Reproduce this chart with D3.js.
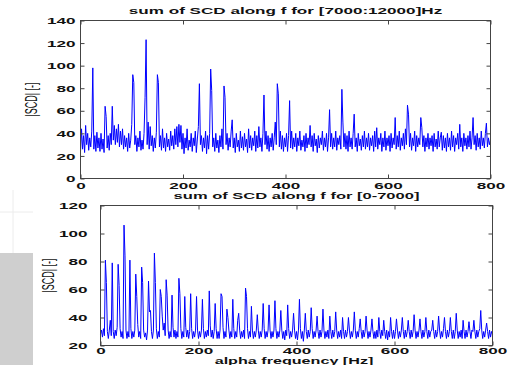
<!DOCTYPE html>
<html>
<head>
<meta charset="utf-8">
<script src="https://cdn.jsdelivr.net/npm/d3@7"></script>
<style>
  body { margin: 0; background: #fff; }
  svg { display: block; }
  text { font-family: "Liberation Sans", Arial, sans-serif; }
</style>
</head>
<body>
<div id="chart"></div>
<script>
// ---- data ----
// upper panel: sum of SCD along f for [7000:12000]Hz, one value every 2 Hz (0..800)
var topStep = 2;
var topVals = [
  24,44,26,38,23,47,30,40,25,36,28,42,98,26,38,24,41,27,36,24,
  40,26,35,23,64,55,27,38,25,40,30,64,34,47,30,44,32,48,28,42,
  30,44,26,38,28,36,24,40,27,34,48,92,85,30,38,24,36,28,42,25,
  34,26,40,72,123,30,50,26,46,29,38,24,36,27,41,92,85,28,38,25,
  44,27,36,24,40,28,35,25,42,29,38,26,44,30,46,28,48,32,47,26,
  40,22,36,27,44,25,34,28,40,24,36,29,42,23,35,46,84,30,38,24,
  36,27,42,22,38,26,40,97,78,28,36,24,40,27,34,23,38,28,44,26,
  82,72,30,40,25,36,28,42,52,27,36,23,40,28,34,24,42,27,37,25,
  40,28,35,23,44,27,38,25,36,29,42,24,38,27,46,28,36,24,40,74,
  30,42,26,38,24,36,28,40,25,36,50,30,84,75,28,42,26,38,24,36,
  28,40,24,38,69,27,42,26,36,28,40,24,36,29,42,25,34,28,38,24,
  40,27,36,30,47,28,38,24,40,29,35,23,38,27,36,30,42,25,36,28,
  40,24,36,61,28,40,26,36,28,42,25,36,30,38,26,79,50,28,40,26,
  38,24,42,28,36,26,40,57,28,36,24,40,29,35,25,38,28,42,26,36,
  28,40,25,36,29,38,24,42,28,45,26,36,30,40,24,36,28,42,25,36,
  29,38,24,40,27,36,30,54,26,38,28,42,25,36,29,40,26,44,30,65,
  57,28,40,25,36,29,42,24,38,28,36,30,54,45,28,38,24,36,28,40,
  26,36,29,38,24,40,28,35,26,42,28,36,41,25,38,27,36,24,40,28,
  36,25,42,28,38,24,36,30,40,26,48,28,36,24,40,29,36,26,38,28,
  42,26,36,54,30,38,25,40,28,36,26,42,29,36,27,40,49,28,36,30,
  34
];
// lower panel: sum of SCD along f for [0-7000], one value every 2 Hz (0..800)
var botStep = 2;
var botVals = [
  28,31,26,32,27,81,65,30,25,31,38,27,79,30,25,31,27,33,78,63,
  32,26,30,25,106,84,31,25,30,26,81,32,25,30,26,31,71,55,35,26,
  30,25,76,65,31,26,29,24,31,66,44,45,30,25,31,86,65,32,25,30,
  26,60,55,41,31,36,27,67,56,31,25,30,26,56,33,26,31,25,30,26,
  68,57,32,25,30,26,55,33,26,31,25,30,57,32,25,30,26,31,55,31,
  25,30,26,31,53,32,25,30,26,31,27,59,34,26,31,25,30,50,32,25,
  30,25,31,57,55,33,25,30,26,46,40,31,25,30,26,53,32,25,30,26,
  38,43,31,25,30,26,31,25,61,55,32,25,30,26,48,31,25,30,26,31,
  42,31,25,30,26,31,50,32,25,30,26,31,49,31,25,30,26,31,52,32,
  25,30,26,31,45,31,25,30,24,31,27,49,32,25,30,26,31,43,31,25,
  30,24,31,53,32,25,30,23,31,43,30,25,31,26,30,47,32,25,30,26,
  31,41,30,25,31,26,30,46,31,25,30,26,31,25,41,30,25,31,26,30,
  44,31,25,30,26,31,25,40,30,25,31,26,30,40,31,25,30,26,31,44,
  31,25,30,26,32,39,30,25,31,26,30,41,31,25,30,26,31,39,30,25,
  30,25,31,26,40,30,25,31,27,38,30,25,31,24,30,26,40,30,25,31,
  25,30,39,31,25,30,26,31,40,30,25,31,26,30,38,30,25,31,26,30,
  42,31,25,30,26,31,39,30,25,31,26,30,40,30,25,31,26,30,31,38,
  30,25,31,26,30,41,31,25,30,26,32,40,30,25,31,26,30,40,30,25,
  31,25,30,43,31,25,30,26,31,25,38,30,25,31,26,30,37,30,25,31,
  30,38,30,25,31,26,30,32,45,31,25,30,26,31,36,30,25,31,26,30,
  28
];
var xTicks = [0, 200, 400, 600, 800];
var topYTicks = [0, 20, 40, 60, 80, 100, 120, 140];
var botYTicks = [20, 40, 60, 80, 100, 120];

var W = 518, H = 365;
var SX = 1.9; // the picture is stretched sideways, text included

var svg = d3.select("#chart").append("svg")
  .attr("width", W).attr("height", H);

// grey bits of the screenshot at the left
svg.append("rect").attr("x", 0).attr("y", 253).attr("width", 33).attr("height", H - 253)
  .attr("fill", "#cfcfcf");
svg.append("line").attr("x1", 13).attr("x2", 13).attr("y1", 190).attr("y2", 253)
  .attr("stroke", "#ececec");
svg.append("line").attr("x1", 0).attr("x2", 33).attr("y1", 212).attr("y2", 212)
  .attr("stroke", "#ececec");

function stretchText(sel, cx, cy, size, bold, rot) {
  sel.attr("transform", "translate(" + cx + "," + cy + ") scale(" + SX + ",1)" + (rot ? " rotate(-90)" : ""))
    .attr("text-anchor", "middle")
    .attr("dy", "0.35em")
    .style("font-size", size + "px")
    .style("font-weight", bold ? "bold" : "normal")
    .attr("fill", "#111");
}

function tickFont(sel) {
  sel.attr("dy", "0.35em")
    .attr("transform", "scale(" + SX + ",1)")
    .style("font-size", "9px").style("font-weight", "bold")
    .style("font-family", "'Liberation Sans', Arial, sans-serif")
    .attr("fill", "#111");
}

function drawPanel(p) {
  var x = d3.scaleLinear().domain([0, 800]).range([p.left, p.right]);
  var y = d3.scaleLinear().domain(p.yDomain).range([p.bottom, p.top]);

  var g = svg.append("g");

  var line = d3.line()
    .x(function (d, i) { return x(i * p.step); })
    .y(function (d) { return y(d); });

  g.append("path").datum(p.vals)
    .attr("d", line)
    .attr("fill", "none")
    .attr("stroke", "#0000ff")
    .attr("stroke-width", 1);

  // box
  g.append("rect")
    .attr("x", p.left).attr("y", p.top)
    .attr("width", p.right - p.left).attr("height", p.bottom - p.top)
    .attr("fill", "none").attr("stroke", "#444").attr("stroke-width", 1);

  // inward ticks on all four sides, matlab style
  function addAxis(axis, tr, keepText) {
    var sel = g.append("g").attr("transform", tr)
      .call(axis.tickSizeInner(-4).tickSizeOuter(0).tickPadding(0));
    sel.select(".domain").remove();
    sel.selectAll(".tick line").attr("stroke", "#444");
    if (!keepText) sel.selectAll("text").remove();
    return sel;
  }
  var xb = addAxis(d3.axisBottom(x).tickValues(xTicks), "translate(0," + p.bottom + ")", true);
  addAxis(d3.axisTop(x).tickValues(xTicks), "translate(0," + p.top + ")", false);
  var yl = addAxis(d3.axisLeft(y).tickValues(p.yTicks), "translate(" + p.left + ",0)", true);
  addAxis(d3.axisRight(y).tickValues(p.yTicks), "translate(" + p.right + ",0)", false);

  xb.selectAll("text").attr("y", p.xLabGap).call(tickFont);
  yl.selectAll("text").attr("x", -p.yLabGap / SX).call(tickFont);

  g.append("text").text(p.title)
    .call(stretchText, (p.left + p.right) / 2, p.titleY, p.titleSize, true, false);
  g.append("text").text("|SCD| [-]")
    .call(stretchText, p.yLabX, (p.top + p.bottom) / 2, 9, false, true);
}

drawPanel({
  left: 80.5, right: 490.5, top: 20.5, bottom: 178.5,
  yDomain: [0, 140], yTicks: topYTicks, step: topStep, vals: topVals,
  title: "sum of SCD along f for [7000:12000]Hz", titleY: 11, titleSize: 9,
  yLabX: 31, yLabGap: 5, xLabGap: 7
});

drawPanel({
  left: 100.5, right: 492.5, top: 205.5, bottom: 345.5,
  yDomain: [20, 120], yTicks: botYTicks, step: botStep, vals: botVals,
  title: "sum of SCD along f for [0-7000]", titleY: 196, titleSize: 8.7,
  yLabX: 48, yLabGap: 13, xLabGap: 5.5
});

svg.append("text").text("alpha frequency [Hz]")
  .call(stretchText, 294, 361.5, 8.5, true, false);
</script>
</body>
</html>
